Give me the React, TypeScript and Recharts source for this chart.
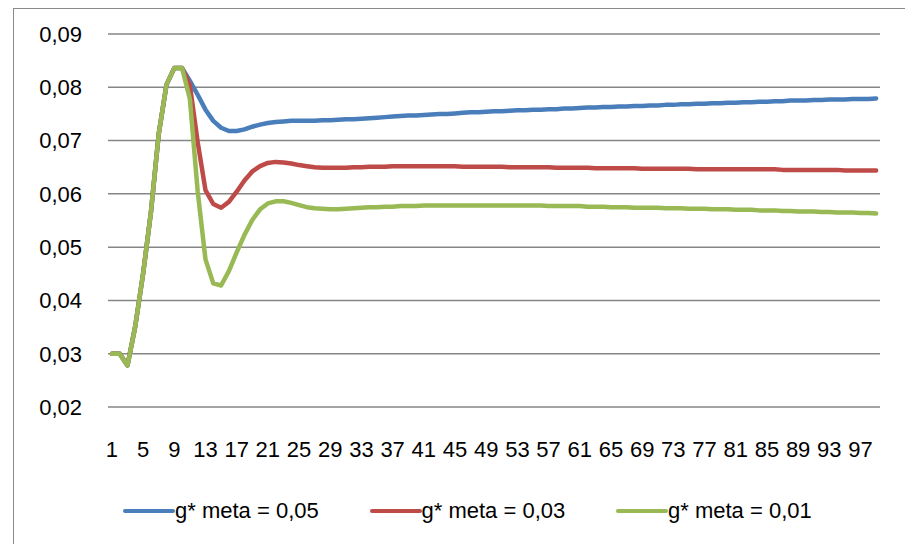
import React from 'react';
import { LineChart, Line, XAxis, YAxis, CartesianGrid, Legend } from 'recharts';

// period index on the horizontal axis
const periods = [
  1, 2, 3, 4, 5, 6, 7, 8, 9, 10, 11, 12, 13, 14, 15, 16, 17, 18, 19, 20,
  21, 22, 23, 24, 25, 26, 27, 28, 29, 30, 31, 32, 33, 34, 35, 36, 37, 38, 39, 40,
  41, 42, 43, 44, 45, 46, 47, 48, 49, 50, 51, 52, 53, 54, 55, 56, 57, 58, 59, 60,
  61, 62, 63, 64, 65, 66, 67, 68, 69, 70, 71, 72, 73, 74, 75, 76, 77, 78, 79, 80,
  81, 82, 83, 84, 85, 86, 87, 88, 89, 90, 91, 92, 93, 94, 95, 96, 97, 98, 99
];

const meta005 = [
  0.0300, 0.0300, 0.0278, 0.0352, 0.0450, 0.0565, 0.0712, 0.0805, 0.0836, 0.0836,
  0.0812, 0.0786, 0.0758, 0.0737, 0.0724, 0.0718, 0.0718, 0.0721, 0.0726, 0.0730,
  0.0733, 0.0735, 0.0736, 0.0737, 0.0737, 0.0737, 0.0737, 0.0738, 0.0738, 0.0739,
  0.0740, 0.0740, 0.0741, 0.0742, 0.0743, 0.0744, 0.0745, 0.0746, 0.0747, 0.0747,
  0.0748, 0.0749, 0.0750, 0.0750, 0.0751, 0.0752, 0.0753, 0.0753, 0.0754, 0.0755,
  0.0755, 0.0756, 0.0757, 0.0757, 0.0758, 0.0758, 0.0759, 0.0759, 0.0760, 0.0760,
  0.0761, 0.0762, 0.0762, 0.0763, 0.0763, 0.0764, 0.0764, 0.0765, 0.0765, 0.0766,
  0.0766, 0.0767, 0.0767, 0.0768, 0.0768, 0.0769, 0.0769, 0.0770, 0.0770, 0.0771,
  0.0771, 0.0772, 0.0772, 0.0773, 0.0773, 0.0774, 0.0774, 0.0775, 0.0775, 0.0775,
  0.0776, 0.0776, 0.0777, 0.0777, 0.0777, 0.0778, 0.0778, 0.0778, 0.0779
];

const meta003 = [
  0.0300, 0.0300, 0.0278, 0.0352, 0.0450, 0.0565, 0.0712, 0.0805, 0.0836, 0.0836,
  0.0804, 0.0697, 0.0607, 0.0581, 0.0574, 0.0585, 0.0604, 0.0625, 0.0642, 0.0652,
  0.0658, 0.0660, 0.0659, 0.0657, 0.0654, 0.0652, 0.0650, 0.0649, 0.0649, 0.0649,
  0.0649, 0.0650, 0.0650, 0.0651, 0.0651, 0.0651, 0.0652, 0.0652, 0.0652, 0.0652,
  0.0652, 0.0652, 0.0652, 0.0652, 0.0652, 0.0651, 0.0651, 0.0651, 0.0651, 0.0651,
  0.0651, 0.0650, 0.0650, 0.0650, 0.0650, 0.0650, 0.0650, 0.0649, 0.0649, 0.0649,
  0.0649, 0.0649, 0.0648, 0.0648, 0.0648, 0.0648, 0.0648, 0.0648, 0.0647, 0.0647,
  0.0647, 0.0647, 0.0647, 0.0647, 0.0647, 0.0646, 0.0646, 0.0646, 0.0646, 0.0646,
  0.0646, 0.0646, 0.0646, 0.0646, 0.0646, 0.0646, 0.0645, 0.0645, 0.0645, 0.0645,
  0.0645, 0.0645, 0.0645, 0.0645, 0.0644, 0.0644, 0.0644, 0.0644, 0.0644
];

const meta001 = [
  0.0300, 0.0300, 0.0278, 0.0352, 0.0450, 0.0565, 0.0712, 0.0805, 0.0836, 0.0836,
  0.0778, 0.0605, 0.0477, 0.0432, 0.0428, 0.0455, 0.0490, 0.0523, 0.0551, 0.0571,
  0.0582, 0.0586, 0.0586, 0.0583, 0.0579, 0.0575, 0.0573, 0.0572, 0.0571, 0.0571,
  0.0572, 0.0573, 0.0574, 0.0575, 0.0575, 0.0576, 0.0576, 0.0577, 0.0577, 0.0577,
  0.0578, 0.0578, 0.0578, 0.0578, 0.0578, 0.0578, 0.0578, 0.0578, 0.0578, 0.0578,
  0.0578, 0.0578, 0.0578, 0.0578, 0.0578, 0.0578, 0.0577, 0.0577, 0.0577, 0.0577,
  0.0577, 0.0576, 0.0576, 0.0576, 0.0575, 0.0575, 0.0575, 0.0574, 0.0574, 0.0574,
  0.0574, 0.0573, 0.0573, 0.0573, 0.0572, 0.0572, 0.0572, 0.0571, 0.0571, 0.0571,
  0.0570, 0.0570, 0.0570, 0.0569, 0.0569, 0.0569, 0.0568, 0.0568, 0.0567, 0.0567,
  0.0567, 0.0566, 0.0566, 0.0565, 0.0565, 0.0565, 0.0564, 0.0564, 0.0563
];

const yTicks = [0.02, 0.03, 0.04, 0.05, 0.06, 0.07, 0.08, 0.09];

const series = [
  { key: 'm005', name: 'g* meta = 0,05', color: '#4A7EBB', values: meta005 },
  { key: 'm003', name: 'g* meta = 0,03', color: '#BE4B48', values: meta003 },
  { key: 'm001', name: 'g* meta = 0,01', color: '#98B954', values: meta001 },
];

const chartData = periods.map((p, i) => {
  const row: Record<string, number> = { period: p };
  series.forEach(s => { row[s.key] = s.values[i]; });
  return row;
});

const FONT = '"Liberation Sans", Arial, sans-serif';

const formatComma = (v: number) => v.toFixed(2).replace('.', ',');

// legend keeps the series order (0,05 / 0,03 / 0,01)
const renderLegend = (props: any) => {
  const payload = [...(props.payload || [])].sort(
    (a: any, b: any) =>
      series.findIndex(s => s.name === a.value) - series.findIndex(s => s.name === b.value)
  );
  return (
    <div style={{ display: 'flex', alignItems: 'center', height: 40, paddingLeft: 123 }}>
      {payload.map((entry: any) => (
        <div key={entry.value} style={{ display: 'flex', alignItems: 'center', width: 246.5 }}>
          <span
            style={{
              display: 'inline-block',
              width: 52,
              height: 4.5,
              borderRadius: 2,
              background: entry.color
            }}
          />
          <span style={{ fontFamily: FONT, fontSize: 22, color: '#000', whiteSpace: 'nowrap' }}>
            {entry.value}
          </span>
        </div>
      ))}
    </div>
  );
};

const App: React.FC = () => {
  return (
    <div
      style={{
        position: 'fixed',
        left: 0,
        top: 0,
        width: 905,
        height: 544,
        overflow: 'hidden',
        background: '#fff',
        fontFamily: FONT
      }}
    >
      <div
        style={{
          position: 'absolute',
          left: 13,
          top: 8,
          width: 910,
          height: 560,
          border: '1.5px solid #8a8a8a',
          boxSizing: 'border-box'
        }}
      />
      <div style={{ position: 'absolute', left: 0, top: 0 }}>
        <LineChart
          width={905}
          height={544}
          data={chartData}
          margin={{ top: 34, right: 25, left: 38, bottom: 37 }}
        >
          <CartesianGrid vertical={false} stroke="#868686" strokeWidth={1.5} />
          <XAxis
            dataKey="period"
            interval={3}
            height={60}
            axisLine={false}
            tickLine={false}
            tickSize={0}
            tickMargin={34}
            padding={{ left: 3.9, right: 3.9 }}
            tick={{ fontSize: 22, fill: '#000', fontFamily: FONT }}
          />
          <YAxis
            domain={[0.02, 0.09]}
            ticks={yTicks}
            width={70}
            axisLine={false}
            tickLine={false}
            tickSize={0}
            tickMargin={26}
            tickFormatter={formatComma}
            tick={{ fontSize: 22, fill: '#000', fontFamily: FONT }}
          />
          <Legend
            verticalAlign="bottom"
            content={renderLegend}
            wrapperStyle={{ left: 0, top: 491, width: 905 }}
          />
          {series.map(s => (
            <Line
              key={s.key}
              type="linear"
              dataKey={s.key}
              name={s.name}
              stroke={s.color}
              strokeWidth={4.5}
              strokeLinecap="round"
              strokeLinejoin="round"
              dot={false}
              activeDot={false}
              isAnimationActive={false}
            />
          ))}
        </LineChart>
      </div>
    </div>
  );
};

export default App;
